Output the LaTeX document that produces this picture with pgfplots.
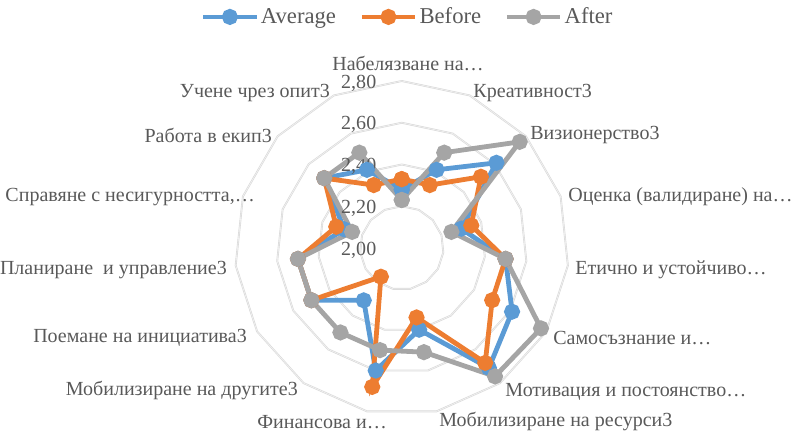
\documentclass[border=0pt]{standalone}
\usepackage{pgfplots}
\pgfplotsset{compat=1.18}
\usepackage{pgfplotstable}
\usepackage{fontspec}
\setmainfont{Liberation Serif}
\definecolor{cblue}{HTML}{5B9BD5}
\definecolor{corange}{HTML}{ED7D31}
\definecolor{cgray}{HTML}{A5A5A5}
\definecolor{ctext}{HTML}{595959}
\definecolor{cgrid}{HTML}{D9D9D9}
\tikzset{lab/.style={font=\fontsize{15}{17}\selectfont, text=ctext, inner sep=0pt}}

\pgfplotstableread{
idx avg before after
0 2.28 2.33 2.23
1 2.41 2.33 2.50
2 2.61 2.51 2.76
3 2.30 2.35 2.25
4 2.50 2.50 2.50
5 2.61 2.50 2.77
6 2.71 2.68 2.76
7 2.40 2.34 2.51
8 2.60 2.68 2.50
9 2.31 2.17 2.50
10 2.50 2.50 2.50
11 2.50 2.50 2.50
12 2.29 2.33 2.25
13 2.50 2.50 2.50
14 2.41 2.33 2.50
15 2.28 2.33 2.23
}\data

\begin{document}
\begin{tikzpicture}
\begin{axis}[
  x=156.56pt, y=156.56pt,
  xmin=-1.924, xmax=1.874, ymin=-0.891, ymax=1.188,
  hide axis, clip=false,
  legend columns=3,
  legend style={at={(0.514,0.961)}, anchor=center, draw=none, fill=none,
    font=\fontsize{17}{19}\selectfont, text=ctext,
    nodes={inner xsep=1.5pt, inner ysep=0pt},
    /tikz/every odd column/.append style={column sep=0pt},
    /tikz/every even column/.append style={column sep=16pt},
    inner sep=0pt},
  legend image code/.code={\draw[#1, mark=none] (0pt,0pt) -- (40pt,0pt); \draw[#1] plot coordinates {(20pt,0pt)};},
]
\path (axis cs:-1.924,-0.891) rectangle (axis cs:1.874,1.188);
\pgfplotsinvokeforeach{0.2,0.4,0.6,0.8}{
  \addplot[cgrid, line width=1.4pt, forget plot, data cs=polar] table[x expr=90-24*\thisrow{idx}, y expr=#1]{\data};
  \addplot[white!96!black, line width=0.4pt, forget plot, data cs=polar] table[x expr=90-24*\thisrow{idx}, y expr=#1]{\data};
}
\addplot[cblue, line width=3.6pt, mark=*, mark size=4.2pt, data cs=polar] table[x expr=90-24*\thisrow{idx}, y expr=\thisrow{avg}-2]{\data};
\addlegendentry{Average}
\addplot[corange, line width=3.6pt, mark=*, mark size=4.2pt, data cs=polar] table[x expr=90-24*\thisrow{idx}, y expr=\thisrow{before}-2]{\data};
\addlegendentry{Before}
\addplot[cgray, line width=3.6pt, mark=*, mark size=4.2pt, data cs=polar] table[x expr=90-24*\thisrow{idx}, y expr=\thisrow{after}-2]{\data};
\addlegendentry{After}

% radial tick labels
\node[lab, anchor=east] at (axis cs:-0.121,0.79) {2,80};
\node[lab, anchor=east] at (axis cs:-0.121,0.59) {2,60};
\node[lab, anchor=east] at (axis cs:-0.121,0.39) {2,40};
\node[lab, anchor=east] at (axis cs:-0.121,0.19) {2,20};
\node[lab, anchor=east] at (axis cs:-0.121,-0.01) {2,00};

% category labels
\node[lab, anchor=center] at (axis cs:0.030,0.886) {Набелязване на…};
\node[lab, anchor=west] at (axis cs:0.342,0.7425) {Креативност3};
\node[lab, anchor=west] at (axis cs:0.6146,0.5413) {Визионерство3};
\node[lab, anchor=west] at (axis cs:0.797,0.2443) {Оценка (валидиране) на…};
\node[lab, anchor=west] at (axis cs:0.830,-0.1054) {Етично и устойчиво…};
\node[lab, anchor=west] at (axis cs:0.7248,-0.4311) {Самосъзнание и…};
\node[lab, anchor=west] at (axis cs:0.4953,-0.6898) {Мотивация и постоянство…};
\node[lab, anchor=west] at (axis cs:0.1787,-0.8321) {Мобилизиране на ресурси3};
\node[lab, anchor=east] at (axis cs:-0.0704,-0.8321) {Финансова и…};
\node[lab, anchor=east] at (axis cs:-0.4967,-0.6802) {Мобилизиране на другите3};
\node[lab, anchor=east] at (axis cs:-0.7411,-0.4311) {Поемане на инициатива3};
\node[lab, anchor=east] at (axis cs:-0.8369,-0.1054) {Планиране\ \ и управление3};
\node[lab, anchor=east] at (axis cs:-0.7028,0.2443) {Справяне с несигурността,…};
\node[lab, anchor=east] at (axis cs:-0.6213,0.5413) {Работа в екип3};
\node[lab, anchor=east] at (axis cs:-0.3435,0.7425) {Учене чрез опит3};
\end{axis}
\end{tikzpicture}
\end{document}
